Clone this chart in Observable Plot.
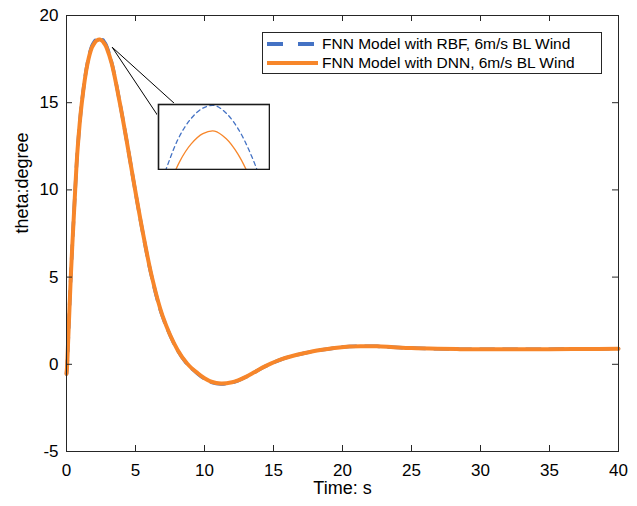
<!DOCTYPE html>
<html>
<head>
<meta charset="utf-8">
<script src="https://cdn.jsdelivr.net/npm/d3@7"></script>
<script src="https://cdn.jsdelivr.net/npm/@observablehq/plot@0.6"></script>
<style>
  html, body { margin: 0; padding: 0; background: white; }
  #wrap { position: relative; width: 637px; height: 506px; font-family: "Liberation Sans", Arial, Helvetica, sans-serif; }
  #wrap svg { position: absolute; }
  #legend { position: absolute; left: 262px; top: 32px; width: 340px; height: 42px; border: 1px solid #262626; background: white; box-sizing: border-box; }
  #legend .row { position: absolute; left: 0; height: 20px; display: flex; align-items: center; font-size: 15.5px; color: #000; white-space: nowrap; }
  #legend .row svg { position: static; display: block; margin-left: 4px; margin-right: 4px; }
</style>
</head>
<body>
<div id="wrap"></div>
<script>
// ---- data ----
const time = [0, 0.05, 0.31, 0.63, 0.8, 1.11, 1.52, 1.84, 2.0, 2.1, 2.2, 2.3, 2.4, 2.5, 2.6, 2.7, 2.8, 2.92, 3.28, 3.86, 4.42, 4.9, 5.51, 6.18, 6.96, 8.04, 8.77, 9.49, 10.0, 10.5, 11.2, 12.0, 12.4, 13.0, 13.6, 14.2, 14.8, 15.5, 16.3, 17.2, 18.4, 19.6, 20.5, 21.3, 22.5, 23.7, 25.0, 26.9, 28.5, 30.0, 32.0, 35.0, 37.5, 40.0];
const dnnTheta = [-0.55, 0.0, 5.0, 10.0, 12.3, 15.0, 17.23, 18.16, 18.39, 18.50, 18.57, 18.61, 18.62, 18.59, 18.53, 18.44, 18.32, 18.12, 17.23, 15.0, 12.54, 10.33, 7.65, 5.04, 2.78, 0.84, 0.02, -0.5, -0.8, -1.0, -1.1, -1.03, -0.93, -0.72, -0.46, -0.19, 0.04, 0.27, 0.46, 0.63, 0.82, 0.95, 1.02, 1.04, 1.03, 0.98, 0.93, 0.89, 0.87, 0.86, 0.86, 0.87, 0.88, 0.89];
const rbfTheta = [-0.55, 0.0, 5.0, 10.0, 12.3, 15.02, 17.28, 18.26, 18.49, 18.60, 18.67, 18.71, 18.72, 18.69, 18.63, 18.54, 18.42, 18.22, 17.28, 15.02, 12.55, 10.32, 7.62, 5.0, 2.74, 0.81, -0.01, -0.53, -0.83, -1.03, -1.13, -1.05, -0.95, -0.73, -0.47, -0.2, 0.03, 0.26, 0.46, 0.63, 0.82, 0.95, 1.02, 1.04, 1.03, 0.98, 0.93, 0.89, 0.87, 0.86, 0.86, 0.87, 0.88, 0.89];
const seriesNames = ["FNN Model with RBF, 6m/s BL Wind", "FNN Model with DNN, 6m/s BL Wind"];
const xTicks = [0, 5, 10, 15, 20, 25, 30, 35, 40];
const yTicks = [-5, 0, 5, 10, 15, 20];
const xLabel = "Time: s";
const yLabel = "theta:degree";
// zoom-inset connector lines (data coordinates of the main axes)
const zoomLinks = [
  {x1: 3.31, y1: 18.18, x2: 7.9, y2: 14.9},
  {x1: 3.31, y1: 18.18, x2: 6.69, y2: 14.17}
];
const insetX = [1.92, 2.87];
const insetY = [18.47, 18.724];

const blue = "#4472c4";
const orange = "#f7862a";
const axisColor = "#262626";
const font = "Liberation Sans, Arial, Helvetica, sans-serif";

const W = 637, H = 506, mL = 66, mR = 19, mT = 15, mB = 55;
const innerW = W - mL - mR, innerH = H - mT - mB, tick = 6;

const rbfRows = time.map((t, i) => ({t, v: rbfTheta[i]}));
const dnnRows = time.map((t, i) => ({t, v: dnnTheta[i]}));
const fmt = d => String(d);

const main = Plot.plot({
  width: W, height: H,
  marginLeft: mL, marginRight: mR, marginTop: mT, marginBottom: mB,
  x: {domain: [0, 40]},
  y: {domain: [-5, 20]},
  style: {fontFamily: font, fontSize: "17px", color: axisColor, background: "white", overflow: "visible"},
  marks: [
    Plot.line(rbfRows, {x: "t", y: "v", stroke: blue, strokeWidth: 3.5, strokeDasharray: "14,9", curve: "catmull-rom"}),
    Plot.line(dnnRows, {x: "t", y: "v", stroke: orange, strokeWidth: 4, curve: "catmull-rom"}),
    Plot.link(zoomLinks, {x1: "x1", y1: "y1", x2: "x2", y2: "y2", stroke: "black", strokeWidth: 1}),
    // inward tick marks on all four sides
    Plot.ruleX(xTicks, {x: d => d, insetTop: innerH - tick, stroke: axisColor, strokeWidth: 1}),
    Plot.ruleX(xTicks, {x: d => d, insetBottom: innerH - tick, stroke: axisColor, strokeWidth: 1}),
    Plot.ruleY(yTicks, {y: d => d, insetRight: innerW - tick, stroke: axisColor, strokeWidth: 1}),
    Plot.ruleY(yTicks, {y: d => d, insetLeft: innerW - tick, stroke: axisColor, strokeWidth: 1}),
    Plot.frame({stroke: axisColor, strokeWidth: 1}),
    // tick labels
    Plot.axisX({ticks: xTicks, anchor: "bottom", tickSize: 0, tickPadding: 12, label: null, tickFormat: fmt, fill: "#000", fontSize: 17}),
    Plot.axisY({ticks: yTicks, anchor: "left", tickSize: 0, tickPadding: 8, label: null, tickFormat: fmt, fill: "#000", fontSize: 17}),
    Plot.text([xLabel], {frameAnchor: "bottom", dy: 42.5, fontSize: 18, fill: "#000"}),
    Plot.text([yLabel], {frameAnchor: "left", dx: -44.5, rotate: -90, fontSize: 18, fill: "#000"})
  ]
});
main.style.left = "0px";
main.style.top = "0px";

const inset = Plot.plot({
  width: 113, height: 67, margin: 1,
  x: {domain: insetX, axis: null},
  y: {domain: insetY, axis: null},
  style: {background: "white"},
  marks: [
    Plot.line(rbfRows, {x: "t", y: "v", stroke: blue, strokeWidth: 1.3, strokeDasharray: "4,3.5", curve: "catmull-rom", clip: true}),
    Plot.line(dnnRows, {x: "t", y: "v", stroke: orange, strokeWidth: 1.3, curve: "catmull-rom", clip: true}),
    Plot.frame({stroke: "#1a1a1a", strokeWidth: 1.6})
  ]
});
inset.style.left = "157.3px";
inset.style.top = "103px";

const wrap = document.getElementById("wrap");
wrap.appendChild(main);
wrap.appendChild(inset);

// legend
const legend = document.createElement("div");
legend.id = "legend";
const rows = [
  {name: seriesNames[0], color: blue, dash: "16,15", width: 4, top: 1},
  {name: seriesNames[1], color: orange, dash: null, width: 4, top: 20}
];
rows.forEach(r => {
  const row = document.createElement("div");
  row.className = "row";
  row.style.top = r.top + "px";
  const ns = "http://www.w3.org/2000/svg";
  const s = document.createElementNS(ns, "svg");
  s.setAttribute("width", "51");
  s.setAttribute("height", "20");
  const ln = document.createElementNS(ns, "line");
  ln.setAttribute("x1", "0"); ln.setAttribute("x2", "51");
  ln.setAttribute("y1", "10"); ln.setAttribute("y2", "10");
  ln.setAttribute("stroke", r.color);
  ln.setAttribute("stroke-width", r.width);
  if (r.dash) ln.setAttribute("stroke-dasharray", r.dash);
  s.appendChild(ln);
  row.appendChild(s);
  const span = document.createElement("span");
  span.textContent = r.name;
  row.appendChild(span);
  legend.appendChild(row);
});
wrap.appendChild(legend);
</script>
</body>
</html>
